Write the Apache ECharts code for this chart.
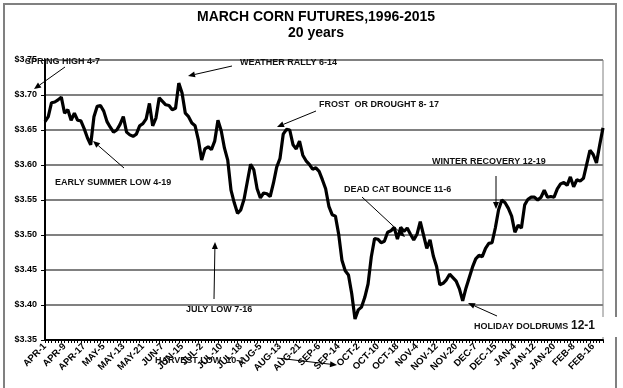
<!DOCTYPE html>
<html>
<head>
<meta charset="utf-8">
<script src="https://cdn.jsdelivr.net/npm/echarts@6/dist/echarts.min.js"></script>
<style>
html,body{margin:0;padding:0;background:#fff;}
#chart{width:623px;height:388px;}
</style>
</head>
<body>
<div id="chart"></div>
<script>
const tickLabels = ['APR-1','APR-9','APR-17','MAY-5','MAY-13','MAY-21','JUN-7','JUN-15','JUL-2','JUL-10','JUL-18','AUG-5','AUG-13','AUG-21','SEP-6','SEP-14','OCT-2','OCT-10','OCT-18','NOV-4','NOV-12','NOV-20','DEC-7','DEC-15','JAN-4','JAN-12','JAN-20','FEB-8','FEB-16'];

const prices = [
3.662,3.669,3.689,3.690,3.693,3.697,3.674,3.679,3.664,3.674,
3.664,3.663,3.652,3.639,3.629,3.669,3.684,3.685,3.677,3.662,
3.654,3.647,3.650,3.658,3.669,3.647,3.643,3.641,3.644,3.656,
3.659,3.666,3.688,3.656,3.667,3.696,3.691,3.686,3.685,3.679,
3.681,3.717,3.703,3.674,3.669,3.660,3.656,3.636,3.607,3.623,
3.626,3.622,3.634,3.664,3.649,3.624,3.607,3.564,3.546,3.531,
3.536,3.551,3.576,3.601,3.593,3.566,3.553,3.560,3.559,3.555,
3.574,3.597,3.609,3.644,3.651,3.650,3.629,3.623,3.634,3.614,
3.606,3.601,3.594,3.596,3.591,3.579,3.566,3.541,3.529,3.527,
3.501,3.464,3.449,3.443,3.416,3.380,3.393,3.397,3.411,3.430,
3.469,3.495,3.494,3.489,3.491,3.504,3.506,3.511,3.494,3.511,
3.505,3.510,3.501,3.493,3.501,3.519,3.500,3.481,3.493,3.470,
3.455,3.429,3.431,3.436,3.444,3.439,3.434,3.423,3.406,3.424,
3.439,3.454,3.466,3.471,3.469,3.481,3.488,3.489,3.510,3.536,
3.550,3.546,3.538,3.527,3.504,3.514,3.510,3.543,3.551,3.554,
3.554,3.550,3.554,3.564,3.554,3.555,3.554,3.566,3.573,3.575,
3.571,3.583,3.569,3.579,3.577,3.581,3.601,3.621,3.615,3.603,
3.629,3.653
];

const titleText = 'MARCH CORN FUTURES,1996-2015';
const subtitleText = '20 years';

const notes = [
  {text:'SPRING HIGH 4-7', x:25, y:62, from:[65,67], to:[34,89]},
  {text:'WEATHER RALLY 6-14', x:240, y:63, from:[232,66], to:[188,76]},
  {text:'FROST  OR DROUGHT 8- 17', x:319, y:105, from:[316,111], to:[277,127]},
  {text:'EARLY SUMMER LOW 4-19', x:55, y:183, from:[124,168], to:[93,141]},
  {text:'JULY LOW 7-16', x:186, y:310, from:[214,299], to:[215,242]},
  {text:'HARVEST LOW  10-1', x:155, y:361, from:[277,358], to:[337,365]},
  {text:'DEAD CAT BOUNCE 11-6', x:344, y:190, from:[362,197], to:[405,237]},
  {text:'WINTER RECOVERY 12-19', x:432, y:162, from:[496,176], to:[496,209]},
  {text:'HOLIDAY DOLDRUMS', x:474, y:327, from:[497,316], to:[468,303], big:'12-1'}
];

const categories = prices.map((_, i) => (i % 6 === 0 && tickLabels[i / 6]) ? tickLabels[i / 6] : 'd' + i);

function arrow(p1, p2) {
  const dx = p2[0] - p1[0], dy = p2[1] - p1[1];
  const len = Math.sqrt(dx * dx + dy * dy);
  const ux = dx / len, uy = dy / len;
  const hl = 7, hw = 3;
  const bx = p2[0] - ux * hl, by = p2[1] - uy * hl;
  return [
    {type:'line', shape:{x1:p1[0], y1:p1[1], x2:bx, y2:by}, style:{stroke:'#000', lineWidth:1}, z:50},
    {type:'polygon', shape:{points:[[p2[0],p2[1]],[bx - uy*hw, by + ux*hw],[bx + uy*hw, by - ux*hw]]}, style:{fill:'#000'}, z:50}
  ];
}

const graphics = [
  {type:'rect', shape:{x:4, y:4, width:612, height:400}, style:{fill:'none', stroke:'#808080', lineWidth:2}, z:0, silent:true},
  {type:'text', x:316, y:10, style:{text:titleText, font:'bold 14px "Liberation Sans", Arial, sans-serif', fill:'#000', textAlign:'center'}, z:60},
  {type:'text', x:316, y:26, style:{text:subtitleText, font:'bold 14px "Liberation Sans", Arial, sans-serif', fill:'#000', textAlign:'center'}, z:60}
];
notes.forEach(n => {
  if (n.big) {
    graphics.push({type:'rect', shape:{x:n.x - 2, y:n.y - 10, width:150, height:20}, style:{fill:'#fff'}, z:55});
    graphics.push({type:'text', x:n.x, y:n.y, style:{text:n.text, font:'bold 9px "Liberation Sans", Arial, sans-serif', fill:'#111', textVerticalAlign:'middle'}, z:60});
    graphics.push({type:'text', x:n.x + 97, y:n.y - 1, style:{text:n.big, font:'bold 12px "Liberation Sans", Arial, sans-serif', fill:'#111', textVerticalAlign:'middle'}, z:60});
  } else {
    graphics.push({type:'text', x:n.x, y:n.y, style:{text:n.text, font:'bold 9px "Liberation Sans", Arial, sans-serif', fill:'#111', textVerticalAlign:'middle'}, z:60});
  }
  arrow(n.from, n.to).forEach(g => graphics.push(g));
});

const chart = echarts.init(document.getElementById('chart'), null, {renderer:'canvas'});
chart.setOption({
  animation:false,
  backgroundColor:'#fff',
  grid:{left:45, right:20, top:60, bottom:48, show:true, borderColor:'#808080', borderWidth:1, backgroundColor:'transparent'},
  xAxis:{
    type:'category',
    data:categories,
    boundaryGap:false,
    axisLine:{lineStyle:{color:'#000', width:2}},
    axisTick:{show:true, interval:0, length:3, lineStyle:{color:'#000', width:1}},
    axisLabel:{interval:5, rotate:45, margin:5, color:'#000', fontSize:9.5, fontWeight:'bold', fontFamily:'"Liberation Sans", Arial, sans-serif',
      formatter:(v, i) => (i % 6 === 0 && tickLabels[i / 6]) ? tickLabels[i / 6] : ''},
    splitLine:{show:false}
  },
  yAxis:{
    type:'value',
    min:3.35, max:3.75, interval:0.05,
    axisLine:{show:true, lineStyle:{color:'#000', width:2}},
    axisTick:{show:true, length:4, lineStyle:{color:'#000'}},
    axisLabel:{margin:8, color:'#000', fontSize:9, fontWeight:'bold', fontFamily:'"Liberation Sans", Arial, sans-serif',
      formatter:v => '$' + v.toFixed(2)},
    splitLine:{show:true, lineStyle:{color:'#808080', width:2}}
  },
  series:[{
    type:'line',
    data:prices,
    symbol:'none',
    lineStyle:{color:'#000', width:3.2},
    z:10
  }],
  graphic:graphics
});
</script>
</body>
</html>
